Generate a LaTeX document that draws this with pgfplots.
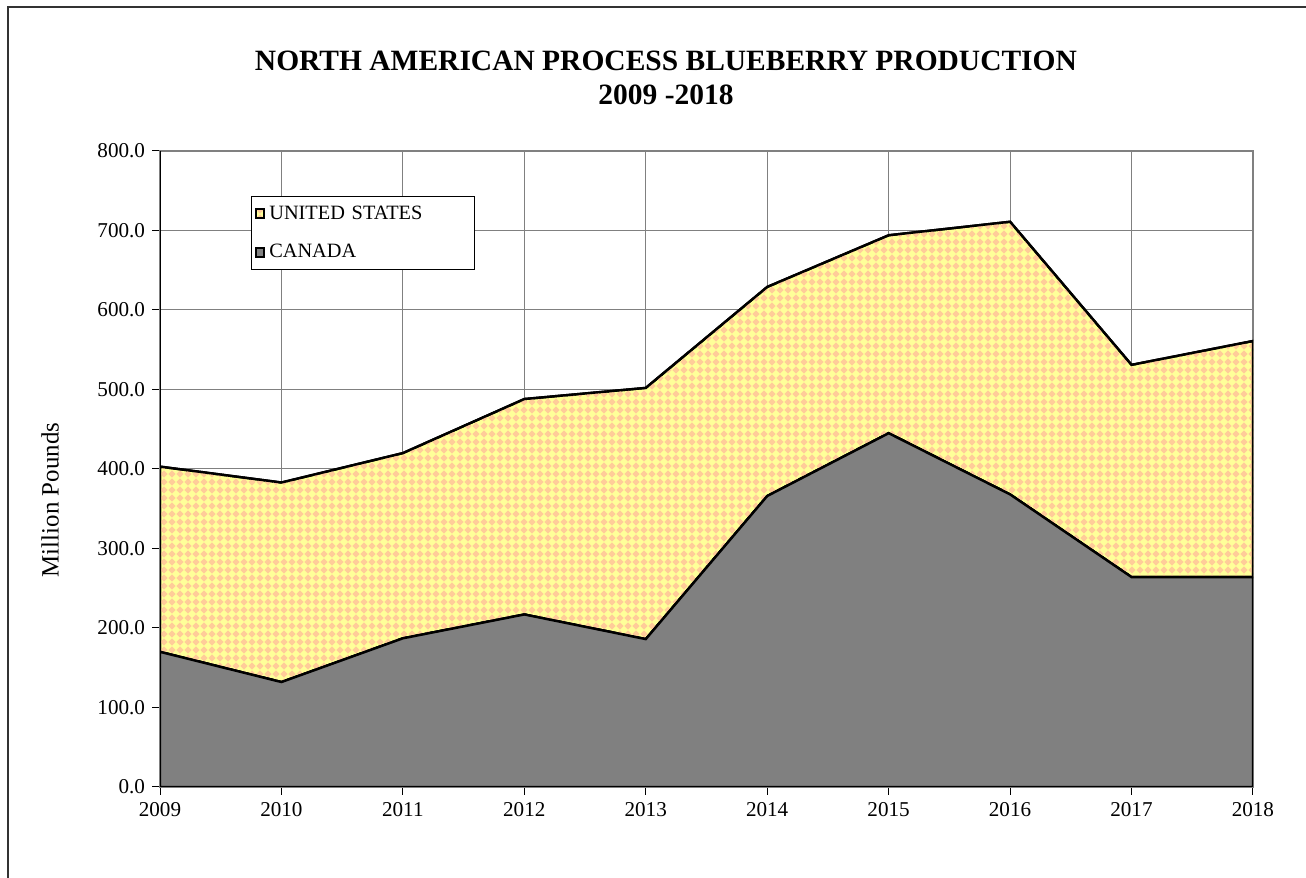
\documentclass[border=0pt]{standalone}
\usepackage{fontspec}
\setmainfont{Liberation Serif}
\usepackage{pgfplots}
\pgfplotsset{compat=1.18}
\usetikzlibrary{patterns}

\definecolor{usyellow}{HTML}{FFFF99}
\definecolor{uspeach}{HTML}{FFCC99}
\definecolor{cagray}{HTML}{808080}

% small diamonds, as in the spreadsheet fill
\pgfdeclarepatternformonly{diamonds}{\pgfpoint{-0.1bp}{-0.1bp}}{\pgfpoint{4.1bp}{4.1bp}}{\pgfpoint{4bp}{4bp}}{
  \pgfpathmoveto{\pgfpoint{2bp}{0.2bp}}
  \pgfpathlineto{\pgfpoint{3.8bp}{2bp}}
  \pgfpathlineto{\pgfpoint{2bp}{3.8bp}}
  \pgfpathlineto{\pgfpoint{0.2bp}{2bp}}
  \pgfpathclose
  \pgfusepath{fill}
}

\pgfplotstableread{
year canada us
2009 170 233
2010 132 251
2011 187 233
2012 217 271
2013 186 316
2014 366 263
2015 445 249
2016 368 343
2017 264 267
2018 264 297
}\blueberry

\begin{document}
\begin{tikzpicture}
\useasboundingbox (0,0) rectangle (653bp,439bp);
\draw[line width=0.6bp, black!80] (4bp,0) -- (4bp,435.5bp) -- (653bp,435.5bp);

\node[font=\fontsize{14.8}{17}\selectfont\bfseries, align=center] at (333bp,400bp)
  {NORTH AMERICAN PROCESS BLUEBERRY PRODUCTION\\2009 -2018};
\node[rotate=90, font=\fontsize{12.5}{14}\selectfont] at (25bp,189bp) {Million Pounds};

\begin{axis}[
  at={(80bp,45.5bp)}, anchor=south west,
  scale only axis,
  width=546.5bp, height=318bp,
  xmin=2009, xmax=2018,
  ymin=0, ymax=800,
  xtick={2009,...,2018},
  ytick={0,100,...,800},
  grid=major,
  grid style={cagray, line width=0.5bp},
  axis line style={cagray, line width=0.6bp},
  tick align=outside,
  major tick length=4bp,
  tick style={black, line width=0.5bp},
  xtick pos=bottom, ytick pos=left,
  ticklabel style={font=\fontsize{10.6}{12}\selectfont, /pgf/number format/assume math mode=true},
  xticklabel style={/pgf/number format/1000 sep={}},
  yticklabel style={/pgf/number format/.cd, fixed, fixed zerofill, precision=1},
  stack plots=y,
  reverse legend,
  legend style={at={(0.0833,0.929)}, anchor=north west, draw=black, line width=0.5bp,
    font=\fontsize{10.2}{11}\selectfont, inner xsep=1.5bp, inner ysep=2.5bp,
    row sep=7bp, text width=99bp},
  legend cell align=left,
  legend image code/.code={
    \draw[#1, draw=black, line width=1bp] (0bp,-2.2bp) rectangle (4.4bp,2.2bp);
  },
]
\addplot[draw=black, line width=1.2bp, fill=cagray] table[x=year, y=canada] {\blueberry} \closedcycle;
\addlegendentry{CANADA}
\addplot[draw=black, line width=1.2bp, fill=usyellow,
  postaction={pattern=diamonds, pattern color=uspeach}] table[x=year, y=us] {\blueberry} \closedcycle;
\addlegendentry{UNITED STATES}
\draw[black, line width=0.6bp] (rel axis cs:0,0) -- (rel axis cs:0,1);
\draw[black, line width=0.6bp] (rel axis cs:0,0) -- (rel axis cs:1,0);
\end{axis}
\end{tikzpicture}
\end{document}
